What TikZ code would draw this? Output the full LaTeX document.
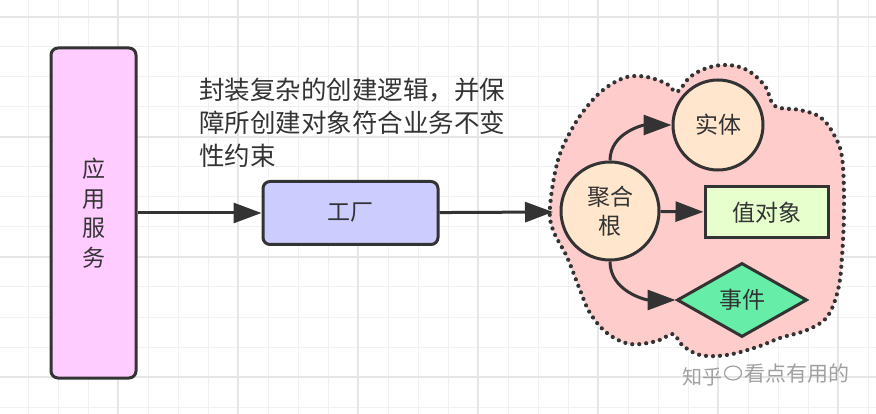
\documentclass[tikz,border=0pt]{standalone}
\usepackage{fontspec}
\setmainfont{Noto Sans CJK SC}
\usetikzlibrary{arrows.meta,shapes.geometric}
\definecolor{dark}{HTML}{333333}
\definecolor{gridminor}{HTML}{F1F1F1}
\definecolor{gridmajor}{HTML}{E6E6E6}
\definecolor{appc}{HTML}{FFCCFF}
\definecolor{facc}{HTML}{CCCCFF}
\definecolor{cloudc}{HTML}{FFCCCC}
\definecolor{peach}{HTML}{FFE6CC}
\definecolor{voc}{HTML}{E6FFCC}
\definecolor{evc}{HTML}{66EEA8}
\definecolor{wm}{HTML}{A0A0A0}
\tikzset{
  shp/.style={draw=dark, line width=3pt, text=dark, inner sep=0pt,
    font=\fontsize{23}{29.5}\selectfont, align=center},
  arr/.style={draw=dark, line width=3pt, -{Triangle[length=28pt,width=20pt]}},
  gridl/.style={draw=gridminor, line width=1pt},
  gridM/.style={draw=gridmajor, line width=1.3pt},
}
\begin{document}
\begin{tikzpicture}[x=1pt,y=-1pt]
\useasboundingbox (0,0) rectangle (876,414);
\fill[white] (0,0) rectangle (876,414);
% grid
\foreach \x in {28,58,...,868} \draw[gridl] (\x,0) -- (\x,414);
\foreach \y in {17,47,...,407} \draw[gridl] (0,\y) -- (876,\y);
\foreach \x in {118,238,...,838} \draw[gridM] (\x,0) -- (\x,414);
\foreach \y in {17,137,...,377} \draw[gridM] (0,\y) -- (876,\y);
% cloud
\draw[fill=cloudc, draw=dark, line width=4.2pt, line cap=round, dash pattern=on 0pt off 7pt]
  plot[smooth cycle, tension=0.6] coordinates {
  (550,207) (558,160) (573,127) (590,103) (607,87) (627,77) (647,77) (667,84) (677,92)
  (690,77) (707,68) (727,65) (747,70) (765,86) (775,106)
  (800,110) (820,117) (833,133) (842,157) (844,207) (842,257) (838,290) (827,317)
  (807,330) (780,338) (757,347) (727,355) (700,355) (682,345) (673,334)
  (657,341) (630,344) (607,333) (590,313) (580,290) (567,257) (553,230)};
\coordinate (cloudL) at (553,212);
% nodes
\node[shp, fill=appc, rounded corners=7pt, minimum width=85pt, minimum height=330pt] (app) at (93.5,213) {应\\用\\服\\务};
\node[shp, fill=facc, rounded corners=7pt, minimum width=175pt, minimum height=63pt] (fac) at (350.5,213) {工厂};
\node[anchor=north west, inner sep=0pt, align=left, text=dark, font=\fontsize{25.5}{33}\selectfont] (note) at (199,78)
  {封装复杂的创建逻辑，并保\\障所创建对象符合业务不变\\性约束};
\node[shp, fill=peach, circle, minimum size=98pt] (root) at (610,211) {聚合\\根};
\node[shp, fill=peach, circle, minimum size=90pt] (ent) at (718,125) {实体};
\node[shp, fill=voc, minimum width=123pt, minimum height=51pt] (vo) at (766.5,212.5) {值对象};
\node[shp, fill=evc, diamond, minimum width=130pt, minimum height=74pt] (ev) at (742,300) {事件};
% connectors
\draw[arr] (app) -- (fac);
\draw[arr] (fac) -- (cloudL);
\draw[arr] (root.north) to[out=90,in=180] (ent.west);
\draw[arr] (root) -- (vo);
\draw[arr] (root.south) to[out=-90,in=180] (ev.west);
% watermark
\node[text=wm, font=\fontsize{20}{20}\selectfont, inner sep=0pt] (wm1) at (702,377) {知乎};
\node[draw=wm, line width=1.2pt, ellipse, minimum width=17pt, minimum height=14pt, inner sep=0pt] (wmb) at (733,373) {};
\node[text=wm, font=\fontsize{21}{21}\selectfont, inner sep=0pt, anchor=west] (wm2) at (744,374) {看点有用的};
\end{tikzpicture}
\end{document}
